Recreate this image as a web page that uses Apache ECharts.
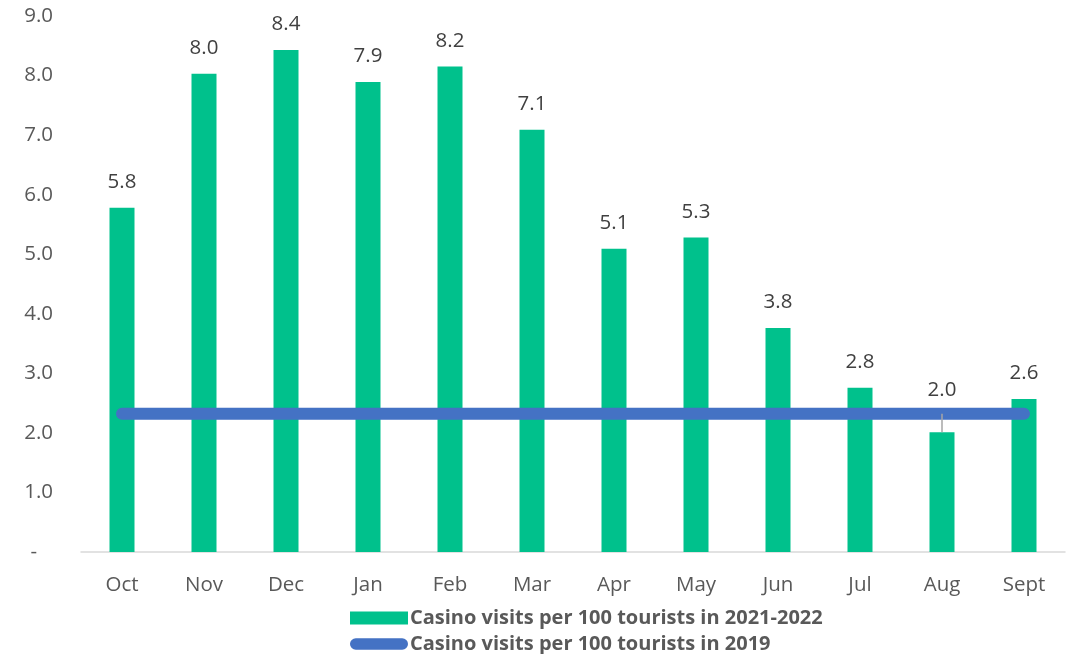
<!DOCTYPE html>
<html>
<head>
<meta charset="utf-8">
<script src="https://cdn.jsdelivr.net/npm/echarts@6/dist/echarts.min.js"></script>
<style>html,body{margin:0;padding:0;background:#fff}#c{width:1066px;height:654px}</style>
</head>
<body>
<div id="c"></div>
<script>
const categories = ['Oct','Nov','Dec','Jan','Feb','Mar','Apr','May','Jun','Jul','Aug','Sept'];
const visits2122 = [5.78, 8.03, 8.43, 7.89, 8.15, 7.09, 5.09, 5.28, 3.76, 2.76, 2.01, 2.57];
const visits2019 = [2.32, 2.32, 2.32, 2.32, 2.32, 2.32, 2.32, 2.32, 2.32, 2.32, 2.32, 2.32];
const yTicks = [0, 1, 2, 3, 4, 5, 6, 7, 8, 9];
const seriesNames = ['Casino visits per 100 tourists in 2021-2022', 'Casino visits per 100 tourists in 2019'];

const FONT = '"Open Sans", sans-serif';
const chart = echarts.init(document.getElementById('c'));
const barData = visits2122.map((v, i) => {
  if (categories[i] === 'Aug') {
    return { value: v, label: { offset: [0, -17] } };
  }
  return v;
});
chart.setOption({
  animation: false,
  grid: { left: 81, right: 1, top: 16, bottom: 102, containLabel: false },
  xAxis: {
    type: 'category',
    data: categories,
    axisTick: { show: false },
    axisLine: { lineStyle: { color: '#D9D9D9', width: 1.5 } },
    axisLabel: { color: '#595959', fontSize: 20.5, fontFamily: FONT, margin: 23 }
  },
  yAxis: {
    type: 'value',
    min: yTicks[0], max: yTicks[yTicks.length - 1], interval: 1,
    splitLine: { show: false },
    axisLine: { show: false },
    axisTick: { show: false },
    axisLabel: {
      color: '#595959', fontSize: 20.5, fontFamily: FONT, margin: 28,
      formatter: v => v === 0 ? '-   ' : v.toFixed(1)
    }
  },
  legend: {
    orient: 'vertical',
    left: 345, top: 603, height: 120,
    itemGap: 6,
    itemWidth: 58, itemHeight: 13,
    textStyle: { color: '#595959', fontSize: 20, fontWeight: 'bold', fontFamily: FONT, padding: [0, 0, 0, -3] },
    data: [
      { name: seriesNames[0], icon: 'rect' },
      { name: seriesNames[1], icon: 'path://M6,0 L54,0 A6,6 0 0 1 54,12 L6,12 A6,6 0 0 1 6,0 Z' }
    ]
  },
  series: [
    {
      name: seriesNames[0],
      type: 'bar',
      data: barData,
      barWidth: 25,
      itemStyle: { color: '#00C18C' },
      label: {
        show: true, position: 'top', distance: 15,
        color: '#404040', fontSize: 20.5, fontFamily: FONT,
        formatter: p => Number(p.value).toFixed(1)
      },
      markLine: {
        silent: true,
        symbol: ['none', 'none'],
        label: { show: false },
        lineStyle: { color: '#A6A6A6', width: 1.5, type: 'solid' },
        data: [[{ coord: ['Aug', visits2122[10]] }, { coord: ['Aug', visits2019[10]] }]]
      },
      z: 2
    },
    {
      name: seriesNames[1],
      type: 'line',
      data: visits2019,
      showSymbol: false,
      symbol: 'none',
      lineStyle: { color: '#4472C4', width: 12, cap: 'round' },
      itemStyle: { color: '#4472C4' },
      z: 3
    }
  ]
});
</script>
</body>
</html>
